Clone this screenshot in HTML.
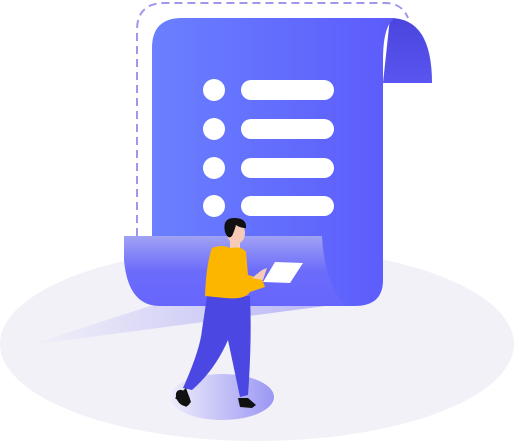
<!DOCTYPE html>
<html><head><meta charset="utf-8"><style>html,body{margin:0;padding:0;background:#fff;width:514px;height:444px;overflow:hidden}</style></head>
<body>
<svg width="514" height="444" viewBox="0 0 514 444" xmlns="http://www.w3.org/2000/svg">
<defs>
<linearGradient id="paper" x1="0" y1="0" x2="1" y2="0"><stop offset="0" stop-color="#6a80ff"/><stop offset="1" stop-color="#5c5bfb"/></linearGradient>
<linearGradient id="curl" x1="0" y1="0" x2="0" y2="1"><stop offset="0" stop-color="#4b45de"/><stop offset="1" stop-color="#5a55f0"/></linearGradient>
<linearGradient id="bot" x1="0" y1="0" x2="0" y2="1"><stop offset="0" stop-color="#a0a2f3"/><stop offset="0.5" stop-color="#6c6cfb"/><stop offset="1" stop-color="#6665fd"/></linearGradient>
<linearGradient id="wedge" x1="0" y1="0" x2="1" y2="0"><stop offset="0" stop-color="#f2f1f8"/><stop offset="1" stop-color="#b7b4f5"/></linearGradient>
<linearGradient id="foot" x1="0" y1="0" x2="1" y2="0"><stop offset="0" stop-color="#eeedfb"/><stop offset="1" stop-color="#9b97f4"/></linearGradient>
</defs>
<ellipse cx="257" cy="344" rx="257" ry="97" fill="#f2f1f8"/>
<polygon points="30,345 150,306 340,304" fill="url(#wedge)"/>
<path d="M137 236 V30 Q137 3 165 3 H385 Q402 3 408 18" fill="none" stroke="#9d98ec" stroke-width="2" stroke-dasharray="8,5"/>
<path d="M390 18 Q432 18 432 83 H383 Z" fill="url(#curl)"/>
<path d="M182 18 H395 Q383 25 383 60 V280 Q383 306 355 306 H175 Q152 306 152 280 V48 Q152 18 182 18 Z" fill="url(#paper)"/>
<path d="M124 236 H322 Q324 280 345 306 H160 Q128 306 124 260 Z" fill="url(#bot)"/>
<g fill="#fff">
<circle cx="214" cy="90" r="11"/><rect x="241" y="80" width="93" height="20" rx="10"/>
<circle cx="214" cy="129" r="11"/><rect x="241" y="119" width="93" height="20" rx="10"/>
<circle cx="214" cy="168" r="11"/><rect x="241" y="158" width="93" height="20" rx="10"/>
<circle cx="214" cy="206" r="11"/><rect x="241" y="196" width="93" height="20" rx="10"/>
</g>
<ellipse cx="222" cy="397" rx="52" ry="23" fill="url(#foot)"/>
<path d="M207 296 L250 296 Q252 340 248 395 L240 397 L228 340 Q215 370 192 390 L183 388 Q200 350 202 330 Z" fill="#4b47e2"/>
<path d="M175 398 L186 388 L191 402 L186 407 Z" fill="#111"/>
<ellipse cx="183" cy="398" rx="6" ry="9" transform="rotate(-35 183 398)" fill="#111"/>
<path d="M238 398 L248 398 L256 405 L252 408 L240 407 Z" fill="#111"/>
<rect x="230" y="238" width="10" height="12" fill="#f5cbb7"/>
<ellipse cx="236" cy="233" rx="9" ry="11" fill="#f5cbb7"/>
<path d="M225 232 Q222 218 234 218 Q247 218 246 228 Q240 228 236 225 Q234 232 232 236 Q228 240 225 232 Z" fill="#111"/>
<path d="M212 248 Q222 244 230 248 Q242 246 246 252 L248 275 L262 279 L265 287 L250 292 Q245 300 225 298 L205 296 Q206 265 212 248 Z" fill="#fdb600"/>
<path d="M252 278 L262 270 L267 268 L263 280 Z" fill="#f5cbb7"/>
<path d="M275 262 L303 263 L290 283 L263 282 Z" fill="#fff"/>
</svg>
</body></html>
